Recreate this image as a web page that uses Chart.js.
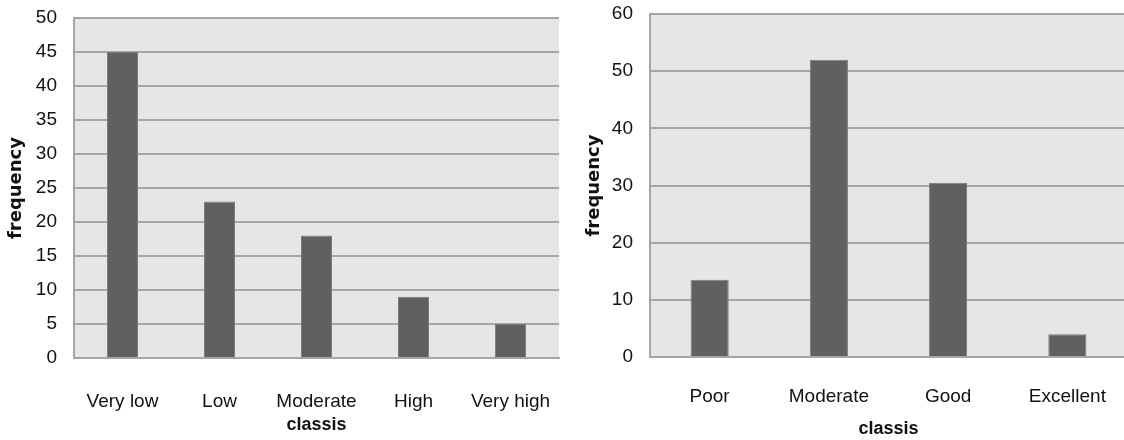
<!DOCTYPE html>
<html>
<head>
<meta charset="utf-8">
<script src="https://cdn.jsdelivr.net/npm/chart.js@4.4.1/dist/chart.umd.min.js"></script>
<style>
  html, body { margin: 0; padding: 0; background: #fff; overflow: hidden; width: 1124px; height: 440px; }
  canvas { position: absolute; top: 0; }
  #riskChart { left: 0; }
  #qualityChart { left: 560px; }
</style>
</head>
<body>
<canvas id="riskChart" width="560" height="440"></canvas>
<canvas id="qualityChart" width="567" height="440"></canvas>
<script>
// Frequency of each class, first panel
const riskClasses = ['Very low', 'Low', 'Moderate', 'High', 'Very high'];
const riskFrequency = [45, 23, 18, 9, 5];
const riskTicks = [0, 5, 10, 15, 20, 25, 30, 35, 40, 45, 50];

// Frequency of each class, second panel
const qualityClasses = ['Poor', 'Moderate', 'Good', 'Excellent'];
const qualityFrequency = [13.5, 52, 30.5, 4];
const qualityTicks = [0, 10, 20, 30, 40, 50, 60];

const tickFont = { family: '"Liberation Sans Narrow", "Liberation Sans", sans-serif', size: 19 };
const titleFontY = { family: '"DejaVu Sans", sans-serif', size: 18, weight: 'bold' };
const titleFontX = { family: '"Liberation Sans Narrow", "Liberation Sans", sans-serif', size: 18, weight: 'bold' };
const gridColor = '#a6a6a6';

// grey plot background
const plotBackground = {
  id: 'plotBackground',
  beforeDraw(chart) {
    const { ctx, chartArea: a } = chart;
    ctx.save();
    ctx.fillStyle = '#e6e6e6';
    ctx.fillRect(a.left, a.top, a.right - a.left, a.bottom - a.top);
    ctx.restore();
  }
};

function makeChart(id, labels, values, ticks, opts) {
  const maxTick = ticks[ticks.length - 1];
  const step = ticks[1] - ticks[0];
  return new Chart(document.getElementById(id), {
    type: 'bar',
    data: {
      labels: labels,
      datasets: [{
        data: values,
        backgroundColor: '#606060',
        borderColor: '#7c7c7c',
        borderWidth: 1,
        categoryPercentage: 1,
        barPercentage: 0.32
      }]
    },
    options: {
      responsive: false,
      devicePixelRatio: 1,
      animation: false,
      layout: { padding: { top: opts.top, right: opts.right, bottom: 0, left: 0 } },
      plugins: { legend: { display: false }, tooltip: { enabled: false } },
      scales: {
        x: {
          grid: { display: false, drawTicks: false },
          border: { display: true, color: gridColor, width: 2 },
          ticks: { font: tickFont, color: '#111', padding: opts.xPad, maxRotation: 0, autoSkip: false },
          title: { display: true, text: 'classis', font: titleFontX, color: '#111', padding: { top: 0, bottom: opts.xTitlePad } },
          afterFit(scale) {
            scale.height = 440 - opts.bottom;
            scale.paddingLeft = 0;
            scale.paddingRight = 0;
          }
        },
        y: {
          min: 0,
          max: maxTick,
          afterBuildTicks(scale) { scale.ticks = ticks.map(v => ({ value: v })); },
          grid: { color: gridColor, lineWidth: 2, drawTicks: false },
          border: { display: true, color: gridColor, width: 2 },
          ticks: { font: tickFont, color: '#111', padding: 17, stepSize: step },
          title: { display: true, text: 'frequency', font: titleFontY, color: '#111', padding: { top: opts.yTitlePad, bottom: 0 } },
          afterFit(scale) {
            scale.width = opts.left;
            scale.paddingTop = 0;
            scale.paddingBottom = 0;
          }
        }
      }
    },
    plugins: [plotBackground]
  });
}

makeChart('riskChart', riskClasses, riskFrequency, riskTicks,
  { top: 18, right: 1, bottom: 358, left: 74, xPad: 32, xTitlePad: 4, yTitlePad: 6 });
makeChart('qualityChart', qualityClasses, qualityFrequency, qualityTicks,
  { top: 14, right: 0, bottom: 357, left: 90, xPad: 28, xTitlePad: 0, yTitlePad: 24 });
</script>
</body>
</html>
